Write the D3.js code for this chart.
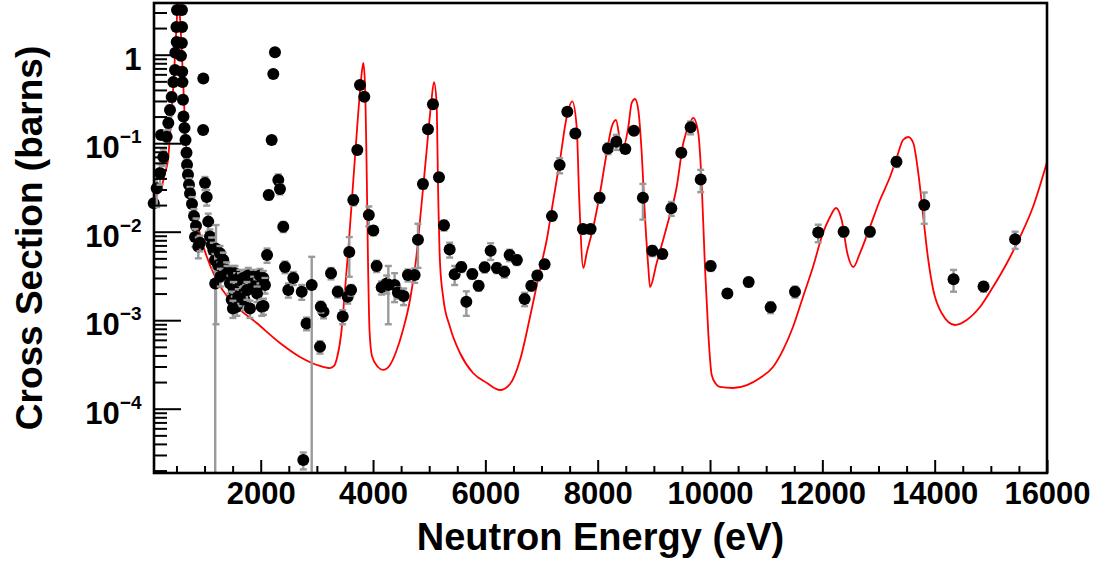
<!DOCTYPE html>
<html>
<head>
<meta charset="utf-8">
<script src="https://cdn.jsdelivr.net/npm/d3@7"></script>
<style>
  body { margin: 0; background: #fff; }
  svg { display: block; }
  text { font-family: "Liberation Sans", Arial, Helvetica, sans-serif; font-weight: bold; fill: #000; }
</style>
</head>
<body>
<svg id="chart" width="1102" height="563"></svg>
<script>
// Measured cross sections: neutron energy (eV), cross section (barns), uncertainty (barns)
const energy = [
  95, 148, 207, 225, 266, 326, 355, 385, 415, 443, 474, 480, 504, 500, 510,
  598, 600, 596, 581, 602, 607, 616, 625, 643, 661, 679, 688, 705, 723, 741, 777, 812, 848, 830,
  978, 975, 1008, 1038, 1066,
  889, 919, 1097, 1127, 1156, 1186, 1204, 1190, 1240, 1275, 1311, 1334, 1394, 1280, 1400,
  1453, 1512, 1542, 1572, 1631, 1640, 1690, 1750, 1779, 1868, 1875, 1929, 1987, 2046, 2076,
  1520, 1483, 1530, 1575, 1601, 1700, 1710, 1755, 1809, 1935, 2018, 2050, 1505,
  2113, 2142, 2195, 2224, 2254, 2313, 2343, 2402, 2432, 2491, 2580, 2730, 2758, 2816, 2908,
  3056, 3118, 3070, 3252, 3371, 3460, 3549, 3609, 3577, 3649, 3720, 3768, 3844, 3925, 4005,
  4064, 4154, 4243, 4272, 4384, 4443, 4545, 4621, 4741, 4800, 4889, 4978, 5067, 5174, 5263,
  5364, 5453, 5572, 5661, 5768, 5880, 5987, 6094, 6206, 6338, 6432, 6561, 6699, 6818, 6925,
  7055, 7185, 7322, 7459, 7602, 7737, 7874, 8034, 8182, 8332, 8492, 8645, 8805, 8973, 9151,
  9311, 9489, 9655, 9834, 10012, 10309, 10688, 11080, 11513, 11927, 12379, 12847, 13320, 13814,
  14336, 14870, 15432
];
const xsec = [
  0.021, 0.031, 0.046, 0.124, 0.070, 0.118, 0.169, 0.237, 0.333, 0.49, 0.67, 1.05, 1.39, 2.06, 3.2,
  3.2, 2.06, 1.36, 0.97, 0.64, 0.49, 0.31, 0.20, 0.149, 0.109, 0.078, 0.057, 0.044, 0.034, 0.027, 0.0206, 0.0150, 0.0116, 0.0087,
  0.54, 0.141, 0.0355, 0.0247, 0.0130,
  0.0068, 0.0075, 0.0088, 0.0071, 0.0062, 0.0048, 0.0064, 0.0026, 0.0042, 0.0057, 0.0041, 0.0048, 0.0037, 0.0031, 0.0034,
  0.0026, 0.0034, 0.0034, 0.0028, 0.0031, 0.0028, 0.0030, 0.0031, 0.0032, 0.0031, 0.0026, 0.0024, 0.0032, 0.0030, 0.0025,
  0.0022, 0.0017, 0.00155, 0.00142, 0.00184, 0.0020, 0.0017, 0.0022, 0.00136, 0.0020, 0.00142, 0.00145, 0.00136,
  0.00545, 0.026, 0.109, 0.605, 1.064, 0.0384, 0.0304, 0.0114, 0.0040, 0.0022, 0.0030, 0.0021, 0.0000263, 0.00092, 0.0025,
  0.00050, 0.00125, 0.00142, 0.00339, 0.0021, 0.0011, 0.00184, 0.0022, 0.0059, 0.0228, 0.084, 0.455, 0.335, 0.0154, 0.0103,
  0.0041, 0.00235, 0.0026, 0.0025, 0.0025, 0.00205, 0.00188, 0.00324, 0.00324, 0.0081, 0.0346, 0.144, 0.275, 0.0412, 0.0118,
  0.0063, 0.0033, 0.0040, 0.00162, 0.00333, 0.00245, 0.00396, 0.0061, 0.0039, 0.00353, 0.00545, 0.0048, 0.00174, 0.00245, 0.0032,
  0.0043, 0.0150, 0.0567, 0.227, 0.129, 0.0107, 0.0107, 0.0242, 0.0873, 0.104, 0.086, 0.138, 0.0242, 0.0061, 0.0056,
  0.0184, 0.078, 0.151, 0.039, 0.0041, 0.0020, 0.0027, 0.0014, 0.0021, 0.0098, 0.0100, 0.0100, 0.0618, 0.020,
  0.0029, 0.0024, 0.0082
];
const xsecErr = [
  0.017, 0.012, 0.012, 0.01, 0.015, 0.02, 0.025, 0.03, 0.04, 0.05, 0.06, 0.08, 0.1, 0.15, 0.2,
  0.2, 0.15, 0.1, 0.08, 0.05, 0.04, 0.03, 0.02, 0.015, 0.012, 0.01, 0.008, 0.007, 0.006, 0.005, 0.004, 0.003, 0.0025, 0.002,
  0.04, 0.01, 0.006, 0.005, 0.003,
  0.0018, 0.0015, 0.0018, 0.0015, 0.0013, 0.0010, 0.0055, 0.0030, 0.0009, 0.0012, 0.0009, 0.0010, 0.0008, 0.0007, 0.0007,
  0.0006, 0.0007, 0.0007, 0.0006, 0.0006, 0.0006, 0.0006, 0.0006, 0.0007, 0.0006, 0.0005, 0.0005, 0.0006, 0.0006, 0.0005,
  0.0005, 0.0004, 0.0003, 0.0003, 0.0004, 0.0004, 0.0004, 0.0005, 0.0003, 0.0004, 0.0003, 0.0003, 0.0003,
  0.001, 0.003, 0.008, 0.04, 0.06, 0.006, 0.004, 0.0015, 0.0006, 0.0004, 0.0005, 0.0004, 0.0000057, 0.00015, 0.0027,
  0.00008, 0.0002, 0.0002, 0.0005, 0.0003, 0.0002, 0.0003, 0.0003, 0.0028, 0.003, 0.008, 0.03, 0.025, 0.0039, 0.0012,
  0.0006, 0.0004, 0.0006, 0.0016, 0.0009, 0.0003, 0.0004, 0.0005, 0.0006, 0.0042, 0.004, 0.012, 0.02, 0.004, 0.0015,
  0.0012, 0.0008, 0.0005, 0.0005, 0.0004, 0.0003, 0.0005, 0.0013, 0.0005, 0.0005, 0.0008, 0.0006, 0.0003, 0.0003, 0.0004,
  0.0005, 0.0015, 0.011, 0.02, 0.012, 0.0012, 0.0012, 0.003, 0.012, 0.02, 0.008, 0.012, 0.0105, 0.0008, 0.0006,
  0.0033, 0.007, 0.025, 0.011, 0.0005, 0.0002, 0.0003, 0.0002, 0.0003, 0.0022, 0.0012, 0.0012, 0.008, 0.0077,
  0.0008, 0.0003, 0.0018
];

// Resonance fit curve: energy (eV) and cross section (barns)
const fitEnergy = [
  90, 177, 237, 296, 349, 403, 456, 492, 518, 536, 554, 590, 634, 679, 741, 830, 972, 1216, 1507, 1929,
  2343, 2700, 3056, 3234, 3305, 3358, 3430, 3501, 3572, 3643, 3714, 3786, 3827, 3857, 3884, 3910, 3937, 3981,
  4088, 4177, 4302, 4409, 4533, 4658, 4765, 4854, 4952, 5032, 5085, 5130, 5162, 5192, 5251, 5370, 5548, 5780,
  6029, 6260, 6439, 6617, 6795, 6973, 7092, 7210, 7329, 7448, 7548, 7626, 7672, 7744, 7804, 7922, 8041, 8160,
  8249, 8326, 8397, 8456, 8545, 8605, 8664, 8723, 8783, 8842, 8901, 8931, 9050, 9228, 9406, 9524, 9643, 9702,
  9791, 9851, 9910, 9969, 10030, 10106, 10177, 10409, 10658, 10890, 11121, 11299, 11477, 11655, 11833, 12011,
  12136, 12243, 12344, 12444, 12551, 12670, 12848, 13026, 13204, 13329, 13436, 13530, 13619, 13708, 13797,
  13886, 13975, 14124, 14361, 14570, 14806, 15038, 15287, 15519, 15750, 16000
];
const fitXsec = [
  0.0249, 0.0272, 0.0323, 0.0461, 0.0646, 0.183, 0.59, 1.67, 3.84, 12, 3.84, 1.29, 0.297, 0.0794, 0.0337, 0.01626, 0.00707, 0.002843, 0.001563, 0.000929,
  0.000552, 0.000384, 0.000304, 0.000288, 0.000304, 0.000374, 0.000681, 0.002193, 0.00805, 0.0337, 0.141, 0.518, 0.806, 0.455, 0.0646, 0.00479, 0.000775, 0.000394,
  0.000296, 0.000274, 0.000312, 0.000437, 0.000775, 0.00169, 0.00479, 0.0176, 0.0794, 0.270, 0.491, 0.297, 0.0228, 0.00455, 0.00178, 0.000838, 0.000426, 0.000253,
  0.000195, 0.0001626, 0.00019, 0.000355, 0.001086, 0.00369, 0.00805, 0.0228, 0.0646, 0.198, 0.297, 0.1525, 0.0228, 0.00389, 0.00574, 0.0113, 0.02735, 0.0775,
  0.1525, 0.183, 0.1087, 0.0906, 0.1525, 0.2846, 0.3158, 0.237, 0.0794, 0.01466, 0.00399, 0.00237, 0.00443, 0.0113, 0.0320, 0.1005, 0.169, 0.193,
  0.1303, 0.0355, 0.00399, 0.000717, 0.00024, 0.00019, 0.000176, 0.0001714, 0.000185, 0.000222, 0.000296, 0.00046, 0.000838, 0.00183, 0.00399, 0.00966,
  0.01466, 0.01853, 0.01355, 0.00574, 0.00399, 0.00574, 0.0113, 0.0228, 0.0415, 0.0698, 0.1087, 0.1175, 0.1005, 0.0461, 0.01466,
  0.00479, 0.002193, 0.001206, 0.000883, 0.001006, 0.001409, 0.00237, 0.00443, 0.00871, 0.0190, 0.0613
];

// Axis ticks
const xTicks = [2000, 4000, 6000, 8000, 10000, 12000, 14000, 16000];
const yTicks = [1e-4, 1e-3, 1e-2, 1e-1, 1];

const W = 1102, H = 563;
const frame = { left: 154, right: 1047, top: 3, bottom: 473 };

const svg = d3.select("#chart");
svg.append("rect").attr("width", W).attr("height", H).attr("fill", "#fff");

const x = d3.scaleLinear().domain([100, 16000]).range([frame.left, frame.right]);
const y = d3.scaleLog().domain([1.877e-5, 3.839]).range([frame.bottom, frame.top]);

svg.append("defs").append("clipPath").attr("id", "plotClip")
  .append("rect")
  .attr("x", frame.left).attr("y", frame.top)
  .attr("width", frame.right - frame.left).attr("height", frame.bottom - frame.top);

// Fit curve
const line = d3.line()
  .x((d, i) => x(fitEnergy[i]))
  .y((d, i) => y(fitXsec[i]))
  .curve(d3.curveMonotoneX);

svg.append("path")
  .datum(fitEnergy)
  .attr("clip-path", "url(#plotClip)")
  .attr("fill", "none")
  .attr("stroke", "#ff0000")
  .attr("stroke-width", 1.8)
  .attr("d", line);

// Data points with error bars
const pts = energy.map((e, i) => ({ e, v: xsec[i], err: xsecErr[i] }));
const capHalf = 3.5;
const groups = svg.append("g").selectAll("g.pt").data(pts).join("g").attr("class", "pt");

groups.each(function(d) {
  const g = d3.select(this);
  const cx = x(d.e);
  const yHi = y(d.v + d.err);
  const lo = d.v - d.err;
  const yLo = lo > 0 ? y(lo) : frame.bottom + 10;
  const bar = g.append("g").attr("clip-path", "url(#plotClip)")
    .attr("stroke", "#9a9a9a").attr("stroke-width", 2.4).attr("fill", "none");
  bar.append("line").attr("x1", cx).attr("x2", cx).attr("y1", yHi).attr("y2", yLo);
  bar.append("line").attr("x1", cx - capHalf).attr("x2", cx + capHalf).attr("y1", yHi).attr("y2", yHi);
  if (lo > 0) {
    bar.append("line").attr("x1", cx - capHalf).attr("x2", cx + capHalf).attr("y1", yLo).attr("y2", yLo);
  }
  g.append("circle").attr("cx", cx).attr("cy", y(d.v)).attr("r", 6).attr("fill", "#000");
});

// X axis: major ticks with labels, minor ticks without
const xMinor = d3.range(500, 16000, 500).filter(v => v % 2000 !== 0);
const xAxisG = svg.append("g").attr("transform", `translate(0,${frame.bottom})`)
  .call(d3.axisBottom(x).tickValues(xTicks).tickSize(-13).tickPadding(9).tickFormat(d3.format("d")));
xAxisG.select(".domain").remove();
xAxisG.selectAll(".tick line").attr("stroke", "#000").attr("stroke-width", 2);
xAxisG.selectAll(".tick text").style("font-size", "31px").attr("fill", "#000");

const xMinorG = svg.append("g").attr("transform", `translate(0,${frame.bottom})`)
  .call(d3.axisBottom(x).tickValues(xMinor).tickSize(-7).tickFormat(""));
xMinorG.select(".domain").remove();
xMinorG.selectAll(".tick line").attr("stroke", "#000").attr("stroke-width", 2);

// Y axis: decades labelled as powers of ten, log minor ticks
const yMinor = [];
for (let p = -5; p <= 0; p++) {
  for (let m = 2; m <= 9; m++) {
    const v = m * Math.pow(10, p);
    if (v >= y.domain()[0] && v <= y.domain()[1]) yMinor.push(v);
  }
}
const yAxisG = svg.append("g").attr("transform", `translate(${frame.left},0)`)
  .call(d3.axisLeft(y).tickValues(yTicks).tickSize(-27).tickPadding(12.5).tickFormat(() => ""));
yAxisG.select(".domain").remove();
yAxisG.selectAll(".tick line").attr("stroke", "#000").attr("stroke-width", 2);
yAxisG.selectAll(".tick text")
  .style("font-size", "31px").attr("fill", "#000").attr("dy", "0.47em")
  .each(function(d) {
    const t = d3.select(this);
    const p = Math.round(Math.log10(d));
    t.text(null);
    if (p === 0) {
      t.text("1");
    } else {
      t.append("tspan").text("10");
      t.append("tspan").attr("dy", -15).style("font-size", "19px").text("\u2212" + Math.abs(p));
    }
  });

const yMinorG = svg.append("g").attr("transform", `translate(${frame.left},0)`)
  .call(d3.axisLeft(y).tickValues(yMinor).tickSize(-13).tickFormat(() => ""));
yMinorG.select(".domain").remove();
yMinorG.selectAll(".tick line").attr("stroke", "#000").attr("stroke-width", 2);

// Frame
svg.append("rect")
  .attr("x", frame.left).attr("y", frame.top)
  .attr("width", frame.right - frame.left).attr("height", frame.bottom - frame.top)
  .attr("fill", "none").attr("stroke", "#000").attr("stroke-width", 2.6);

// Axis titles
svg.append("text")
  .attr("x", (frame.left + frame.right) / 2).attr("y", 550)
  .attr("text-anchor", "middle").style("font-size", "38px")
  .text("Neutron Energy (eV)");

svg.append("text")
  .attr("transform", `translate(42,${(frame.top + frame.bottom) / 2}) rotate(-90)`)
  .attr("text-anchor", "middle").style("font-size", "37px")
  .text("Cross Section (barns)");
</script>
</body>
</html>
